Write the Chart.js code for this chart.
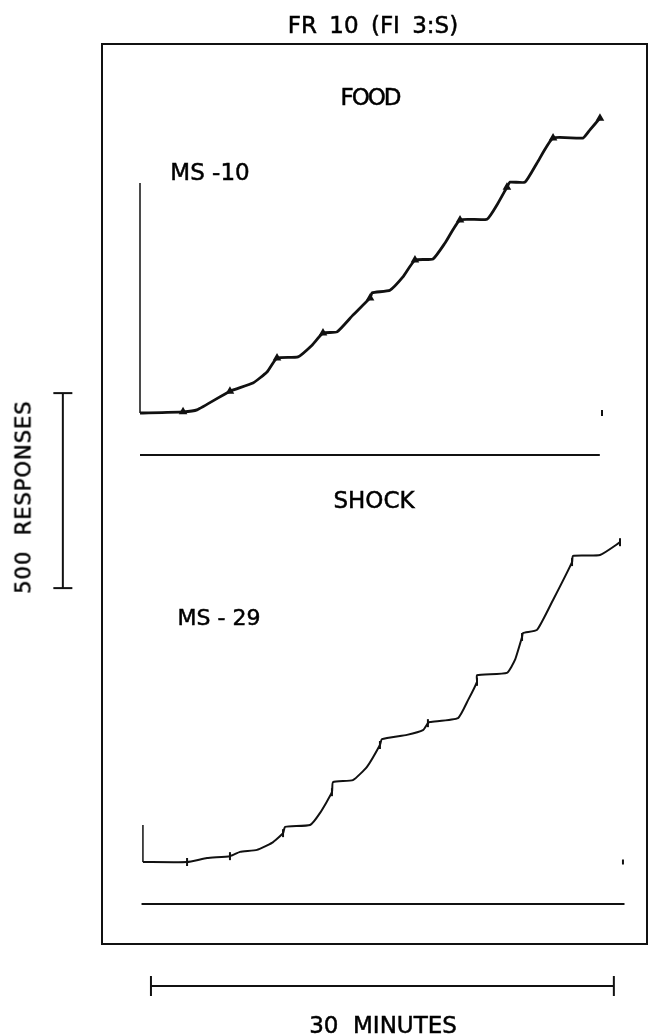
<!DOCTYPE html>
<html>
<head>
<meta charset="utf-8">
<script src="https://cdn.jsdelivr.net/npm/chart.js@4.4.1/dist/chart.umd.min.js"></script>
<style>
  html, body { margin: 0; padding: 0; background: #fff; }
  #wrap { position: relative; width: 649px; height: 1036px; overflow: hidden; }
  #record { position: absolute; left: 0; top: 0; }
  .frame { position: absolute; left: 101px; top: 43px; width: 543px; height: 898px; border: 2px solid #111; }
  .lbl {
    position: absolute; font-family: "DejaVu Sans", sans-serif; font-size: 23px;
    color: #000; -webkit-text-stroke: 0.5px #000; white-space: pre; line-height: 1;
    transform: translate(-50%, -50%);
  }
</style>
</head>
<body>
<div id="wrap">
  <canvas id="record" width="649" height="1036"></canvas>
  <div class="frame"></div>
  <div class="lbl" style="left:373px;top:25px;word-spacing:5px">FR 10 (FI 3:S)</div>
  <div class="lbl" style="left:370px;top:97px;letter-spacing:-2px">FOOD</div>
  <div class="lbl" style="left:210px;top:172px">MS -10</div>
  <div class="lbl" style="left:374px;top:500px">SHOCK</div>
  <div class="lbl" style="left:219px;top:618px;font-size:22px">MS - 29</div>
  <div class="lbl" style="left:24px;top:497px;font-size:21px;letter-spacing:1px;transform:translate(-50%,-50%) rotate(-90deg)">500  RESPONSES</div>
  <div class="lbl" style="left:383px;top:1025px">30  MINUTES</div>
</div>
<script>
// Cumulative record, FOOD (MS-10): minutes / cumulative responses
const topMinutes = [0, 2.79, 3.69, 5.83, 7.32, 8.23, 8.88, 10.24, 11.15, 11.86, 12.77, 13.80, 14.91,
  15.04, 16.20, 17.04, 17.82, 18.99, 19.77, 20.74, 22.49, 23.20, 23.78, 23.98, 24.95, 25.73, 26.77,
  28.71, 29.16, 29.81];
const topResponses = [0, 3, 8, 56, 77, 105, 141, 144, 174, 205, 208, 251, 295,
  308, 315, 349, 392, 395, 436, 495, 497, 538, 579, 592, 592, 641, 705,
  705, 726, 756];
// reinforcement pips (index into the record)
const topPips = [1, 3, 6, 9, 12, 16, 19, 22, 26, 29];
// pen reset stroke at the start of the record
const topStartMinutes = [0, 0];
const topStartResponses = [590, 0];

// Cumulative record, SHOCK (MS-29)
const botMinutes = [0.19, 3.05, 4.34, 5.83, 6.48, 7.58, 8.55, 9.27, 9.40, 11.02, 11.67, 12.44,
  12.51, 13.80, 14.71, 15.55, 15.68, 17.30, 18.34, 18.66, 18.79, 20.61, 21.26, 21.84, 21.84, 23.78,
  24.30, 24.76, 24.82, 25.73, 26.77, 28.00, 28.06, 29.81, 31.11];
const botResponses = [0, 0, 10, 15, 26, 31, 49, 74, 90, 95, 126, 179,
  205, 210, 244, 300, 315, 326, 338, 356, 359, 369, 415, 462, 479, 485,
  518, 577, 587, 595, 672, 769, 785, 787, 820];
const botPips = [1, 3, 7, 11, 15, 19, 23, 27, 31, 34];
const botStartMinutes = [0.19, 0.19];
const botStartResponses = [95, 0];

// event pen lines and end marks
const eventLevel = -108;
const topEventMinutes = [0, 29.8];
const botEventMinutes = [0.1, 31.4];
const topEndMinute = 29.94;
const botEndMinute = 31.3;

// calibration bars
const barResponses = 500;
const barMinutes = 30;

// layout (pixels)
const W = 649, H = 1036;
const PX_PER_MIN = 15.43, PX_PER_RESP = 0.39;
const ORIGIN_X = 140, TOP_BASE = 413, BOT_BASE = 862;

const pts = (xs, ys) => xs.map((x, i) => ({ x, y: ys[i] }));
const pick = (xs, ys, idx) => idx.map(i => ({ x: xs[i], y: ys[i] }));
const ink = '#111';

const recordLine = (data, axis, w, tension) => ({
  data, yAxisID: axis, showLine: true, borderColor: ink, borderWidth: w,
  pointRadius: 0, tension: tension || 0, clip: false
});
const pips = (data, axis, style, r) => ({
  data, yAxisID: axis, showLine: false, pointStyle: style, pointRadius: r,
  pointRotation: style === 'line' ? 90 : 0, borderColor: ink, backgroundColor: ink,
  borderWidth: 2, clip: false
});

const chart = new Chart(document.getElementById('record').getContext('2d'), {
  type: 'scatter',
  data: {
    datasets: [
      recordLine(pts(topStartMinutes, topStartResponses), 'yTop', 1.5),
      recordLine(pts(topMinutes, topResponses), 'yTop', 2.8, 0.15),
      pips(pick(topMinutes, topResponses, topPips), 'yTop', 'triangle', 3),
      recordLine(topEventMinutes.map(x => ({ x, y: eventLevel })), 'yTop', 2),
      pips([{ x: topEndMinute, y: 0 }], 'yTop', 'line', 3),

      recordLine(pts(botStartMinutes, botStartResponses), 'yBot', 1.5),
      recordLine(pts(botMinutes, botResponses), 'yBot', 2, 0.15),
      pips(pick(botMinutes, botResponses, botPips), 'yBot', 'line', 4),
      recordLine(botEventMinutes.map(x => ({ x, y: eventLevel })), 'yBot', 2),
      pips([{ x: botEndMinute, y: 0 }], 'yBot', 'line', 2.5),

      // 500 responses bar (left margin)
      {
        data: [{ x: -5, y: 51 - barResponses }, { x: -5, y: 51 }], yAxisID: 'yTop',
        showLine: true, borderColor: ink, borderWidth: 2, pointStyle: 'line',
        pointRadius: 9.5, pointBorderWidth: 2, clip: false
      },
      // 30 minutes bar (under the frame)
      {
        data: [{ x: 0.71, y: -318 }, { x: 0.71 + barMinutes, y: -318 }], yAxisID: 'yBot',
        showLine: true, borderColor: ink, borderWidth: 2, pointStyle: 'line', pointRotation: 90,
        pointRadius: 10, pointBorderWidth: 2, clip: false
      }
    ]
  },
  options: {
    responsive: false,
    animation: false,
    events: [],
    layout: { padding: 0, autoPadding: false },
    plugins: { legend: { display: false }, tooltip: { enabled: false } },
    scales: {
      x: { type: 'linear', display: false, min: -ORIGIN_X / PX_PER_MIN, max: (W - ORIGIN_X) / PX_PER_MIN },
      yTop: { type: 'linear', display: false, min: (TOP_BASE - H) / PX_PER_RESP, max: TOP_BASE / PX_PER_RESP },
      yBot: { type: 'linear', display: false, min: (BOT_BASE - H) / PX_PER_RESP, max: BOT_BASE / PX_PER_RESP }
    }
  }
});
</script>
</body>
</html>
